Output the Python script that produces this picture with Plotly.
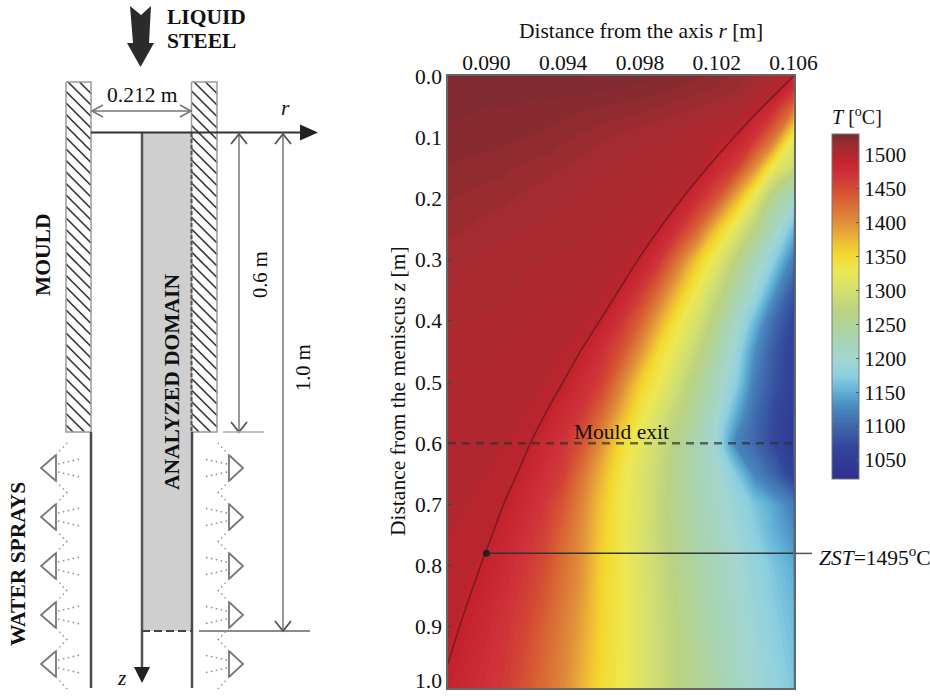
import plotly.graph_objects as go

W, H = 930, 696
SERIF = "Liberation Serif"

# ---- Temperature field ----
r_vals = [0.088, 0.089, 0.090, 0.091, 0.092, 0.093, 0.094, 0.095, 0.096, 0.097,
          0.098, 0.099, 0.100, 0.101, 0.102, 0.103, 0.104, 0.105, 0.106]
z_vals = [0, 0.025, 0.05, 0.1, 0.15, 0.2, 0.25, 0.3, 0.35, 0.4, 0.45, 0.5, 0.55,
          0.6, 0.65, 0.7, 0.75, 0.8, 0.9, 1.0]
T_z000 = [1531,1531,1531,1531,1531,1531,1531,1530,1530,1529,1528,1527,1525,1523,1520,1517,1512,1505,1495]
T_z002 = [1529,1529,1529,1528,1528,1528,1527,1527,1526,1525,1524,1523,1521,1519,1517,1514,1510,1501,1470]
T_z005 = [1527,1527,1526,1526,1525,1525,1524,1523,1522,1521,1520,1518,1516,1514,1511,1508,1498,1478,1430]
T_z010 = [1525,1524,1524,1523,1522,1521,1519,1517,1515,1513,1511,1509,1507,1504,1500,1493,1469,1420,1330]
T_z015 = [1522,1521,1520,1519,1517,1516,1514,1512,1510,1509,1508,1506,1504,1502,1483,1460,1400,1323,1287]
T_z020 = [1518,1517,1516,1515,1513,1511,1510,1509,1508,1507,1505,1503,1497,1476,1444,1382,1317,1250,1212]
T_z025 = [1515,1514,1512,1511,1510,1509,1508,1507,1505,1504,1502,1495,1472,1430,1368,1317,1267,1215,1158]
T_z030 = [1512,1510,1509,1508,1507,1506,1505,1504,1503,1500,1493,1469,1420,1365,1320,1270,1223,1175,1120]
T_z035 = [1510,1509,1508,1507,1505,1504,1503,1502,1500,1493,1469,1427,1375,1330,1286,1241,1195,1138,1085]
T_z040 = [1507,1506,1505,1504,1503,1502,1501,1499,1493,1471,1435,1385,1338,1302,1259,1210,1157,1103,1067]
T_z045 = [1505,1504,1503,1502,1501,1500,1498,1493,1474,1446,1400,1349,1316,1279,1236,1190,1131,1087,1058]
T_z050 = [1503,1502,1501,1500,1499,1498,1495,1478,1460,1414,1362,1330,1295,1257,1217,1176,1117,1082,1058]
T_z055 = [1502,1501,1500,1499,1498,1497,1481,1465,1430,1383,1339,1308,1274,1240,1205,1151,1104,1072,1050]
T_z060 = [1501,1500,1499,1498,1497,1484,1469,1443,1400,1352,1321,1292,1260,1229,1193,1125,1100,1070,1045]
T_z065 = [1500,1499,1498,1497,1489,1474,1460,1420,1378,1339,1312,1285,1253,1226,1205,1170,1125,1096,1060]
T_z070 = [1499,1498,1497,1494,1480,1467,1442,1407,1367,1333,1313,1282,1253,1231,1209,1188,1165,1143,1118]
T_z075 = [1498,1497,1496,1486,1473,1460,1430,1400,1362,1333,1309,1282,1256,1234,1215,1195,1174,1152,1132]
T_z080 = [1497,1496,1491,1479,1467,1450,1424,1397,1358,1335,1311,1287,1261,1239,1220,1201,1183,1165,1148]
T_z090 = [1496,1491,1480,1469,1456,1435,1413,1387,1355,1334,1312,1290,1268,1245,1226,1208,1191,1174,1160]
T_z100 = [1491,1481,1472,1464,1445,1426,1406,1377,1350,1333,1312,1292,1270,1253,1234,1213,1197,1182,1167]
T_rows = [T_z000, T_z002, T_z005, T_z010, T_z015, T_z020, T_z025, T_z030, T_z035, T_z040,
          T_z045, T_z050, T_z055, T_z060, T_z065, T_z070, T_z075, T_z080, T_z090, T_z100]

# Zero-strength isotherm
zst_r = [0.1060, 0.1044, 0.1029, 0.1015, 0.1002, 0.0990, 0.0979, 0.0969, 0.0959, 0.0949,
         0.0940, 0.0931, 0.0923, 0.0916, 0.0909, 0.0903, 0.0897, 0.0886, 0.0880]
zst_z = [0, 0.05, 0.1, 0.15, 0.2, 0.25, 0.3, 0.35, 0.4, 0.45,
         0.5, 0.55, 0.6, 0.65, 0.7, 0.75, 0.8, 0.9, 0.96]
zst_point = (0.090, 0.78)
mould_exit_z = 0.6
x_ticks = [0.090, 0.094, 0.098, 0.102, 0.106]
y_ticks = [0.0, 0.1, 0.2, 0.3, 0.4, 0.5, 0.6, 0.7, 0.8, 0.9, 1.0]
y_tick_text = ["0.0", "0.1", "0.2", "0.3", "0.4", "0.5", "0.6", "0.7", "0.8", "0.9", ""]
cb_ticks = [1050, 1100, 1150, 1200, 1250, 1300, 1350, 1400, 1450, 1500]

T_MIN, T_MAX = 1022, 1531
colour_stops = [(1022, "#2e2f8f"), (1070, "#33479b"), (1100, "#3f68ad"), (1130, "#4a8bc0"),
                (1150, "#5fb0d5"), (1175, "#8ed0e0"), (1200, "#a3d6d0"), (1230, "#a9d4b0"),
                (1270, "#bad280"), (1300, "#d3df70"), (1330, "#ede853"), (1355, "#f4d82e"),
                (1375, "#eeb936"), (1400, "#e0913a"), (1440, "#d75a33"), (1470, "#cf3338"),
                (1494, "#c4222e"), (1498, "#b4262e"), (1512, "#a62b31"), (1522, "#8e2b30"),
                (1531, "#7d2a33")]
colorscale = [[(t - T_MIN) / (T_MAX - T_MIN), c] for t, c in colour_stops]

fig = go.Figure()
fig.add_trace(go.Contour(
    x=r_vals, y=z_vals, z=T_rows, colorscale=colorscale, zmin=T_MIN, zmax=T_MAX,
    contours=dict(coloring="fill", start=T_MIN, end=T_MAX, size=4, showlines=False),
    line=dict(width=0, smoothing=1.0), hoverinfo="skip",
    colorbar=dict(
        x=832 / W, xanchor="left", y=1 - 306.5 / H, yanchor="middle",
        thickness=27, thicknessmode="pixels", len=345 / H, lenmode="fraction",
        xpad=0, ypad=0, outlinecolor="#777", outlinewidth=1,
        tickvals=cb_ticks, ticks="inside", ticklen=3, tickcolor="#555",
        tickfont=dict(family=SERIF, size=21, color="#111"),
    ),
))
fig.add_trace(go.Scatter(x=zst_r, y=zst_z, mode="lines", showlegend=False, hoverinfo="skip",
                         line=dict(color="#7a1c22", width=1.6, shape="spline")))
fig.add_trace(go.Scatter(x=[r_vals[0], r_vals[-1]], y=[mould_exit_z, mould_exit_z], mode="lines",
                         showlegend=False, hoverinfo="skip",
                         line=dict(color="rgba(50,50,50,0.7)", width=2.5, dash="8px,6px")))
fig.add_trace(go.Scatter(x=[zst_point[0], r_vals[-1]], y=[zst_point[1], zst_point[1]], mode="lines",
                         showlegend=False, hoverinfo="skip", line=dict(color="#333", width=1.5)))
fig.add_trace(go.Scatter(x=[zst_point[0]], y=[zst_point[1]], mode="markers",
                         showlegend=False, hoverinfo="skip",
                         marker=dict(color="#222", size=7)))

# ---- Schematic, drawn on a hidden full-page axis in page pixels ----
def line(xs, ys, color="#444", width=2, dash=None):
    fig.add_trace(go.Scatter(x=xs, y=ys, xaxis="x2", yaxis="y2", mode="lines", showlegend=False,
                             hoverinfo="skip", line=dict(color=color, width=width, dash=dash)))

def poly(xs, ys, fill, color=None, width=0):
    fig.add_trace(go.Scatter(x=xs, y=ys, xaxis="x2", yaxis="y2", mode="lines", fill="toself",
                             fillcolor=fill, showlegend=False, hoverinfo="skip",
                             line=dict(color=color or fill, width=width)))

# leader to the ZST label
line([793.5, 812], [553.4, 553.4], color="#555", width=1.5)

# analysed domain
poly([142, 191, 191, 142, 142], [133, 133, 631, 631, 133], "#cfcfcf")

# mould walls with hatching
def hatch(x0, x1, y0, y1, step=11.5):
    xs, ys = [], []
    w = x1 - x0
    c = y0 - w
    while c < y1:
        sy = max(c, y0)
        ey = min(c + w, y1)
        xs += [x0 + (sy - c), x0 + (ey - c), None]
        ys += [sy, ey, None]
        c += step
    line(xs, ys, color="#3a3a3a", width=1.7)
    line([x0, x1, x1, x0, x0], [y0, y0, y1, y1, y0], color="#9a9a9a", width=1.5)

hatch(66, 91, 82, 432)
hatch(191.5, 217, 82, 432)

# walls and axes
line([91, 91], [432, 688], color="#4a4a4a", width=2.5)
line([192, 192], [432, 688], color="#4a4a4a", width=2.5)
line([191.5, 191.5], [133, 432], color="#555", width=2, dash="4px,2px")
line([142, 142], [133, 670], color="#555", width=2.5)
poly([134, 150, 142, 134], [667, 667, 683, 667], "#222")
line([142, 192], [631, 631], color="#444", width=2, dash="8px,4px")
line([91, 302], [132.5, 132.5], color="#333", width=2.2)
poly([300, 318, 300, 300], [124.5, 132.5, 140.5, 124.5], "#222")

# big arrow
poly([130, 141, 151, 149, 154, 140.5, 127, 133, 130],
     [6, 15, 6, 43, 43, 67, 43, 43, 6], "#2b2b2b")

# dimensions
GREY = "#777"
line([91, 192], [111, 111], color=GREY, width=1.6)
line([103, 92, 103], [105, 111, 117], color=GREY, width=1.6)
line([180, 191, 180], [105, 111, 117], color=GREY, width=1.6)
for x, y_end in ((239, 432), (283, 631)):
    line([x, x], [134, y_end], color="#999", width=2)
    line([x - 8, x, x + 8], [144, 134, 144], color="#555", width=1.8)
    line([x - 8, x, x + 8], [y_end - 10, y_end, y_end - 10], color="#555", width=1.8)
line([223, 264], [432, 432], color="#aaa", width=1.5)
line([199, 310], [631, 631], color="#666", width=1.5)

# spray nozzles
nozzle_y = [468, 517, 566, 615, 664]
for y in nozzle_y:
    line([56, 41, 56, 56], [y - 13, y, y + 13, y - 13], color="#777", width=1.8)
    line([229, 243, 229, 229], [y - 13, y, y + 13, y - 13], color="#777", width=1.8)
    for sign in (-1, 1):
        line([58, 80], [y + sign * 4, y + sign * 9], color="#888", width=1.5, dash="1.5px,3.5px")
        line([227, 204], [y + sign * 4, y + sign * 9], color="#888", width=1.5, dash="1.5px,3.5px")
        line([56, 69], [y + sign * 13, y + sign * 27], color="#999", width=1.5, dash="1.5px,3.5px")
        line([229, 216], [y + sign * 13, y + sign * 27], color="#999", width=1.5, dash="1.5px,3.5px")

# ---- Text ----
TS = 21.5
def text(x, y, s, size=TS, bold=False, angle=0, anchor="center"):
    if bold:
        s = f"<b>{s}</b>"
    fig.add_annotation(x=x, y=y, xref="x2", yref="y2", text=s, showarrow=False, textangle=angle,
                       xanchor=anchor, yanchor="middle",
                       font=dict(family=SERIF, size=size, color="#111"))

text(165, 17, "LIQUID", bold=True, anchor="left")
text(165, 41, "STEEL", bold=True, anchor="left")
text(142, 95, "0.212 m")
text(285, 108, "<i>r</i>")
text(122, 678, "<i>z</i>")
text(260, 275, "0.6 m", size=20.5, angle=-90)
text(303, 368, "1.0 m", size=20.5, angle=-90)
text(43, 255, "MOULD", bold=True, angle=-90)
text(172, 382, "ANALYZED DOMAIN", bold=True, angle=-90)
text(18, 564, "WATER SPRAYS", bold=True, angle=-90)
text(641, 31, "Distance from the axis <i>r</i> [m]")
text(398, 391, "Distance from the meniscus <i>z</i> [m]", angle=-90)
text(621, 432, "Mould exit")
text(857, 116, "<i>T</i> [<sup>o</sup>C]", size=20)
text(817, 556, "<i>ZST</i>=1495<sup>o</sup>C", anchor="left")
text(428, 681, "1.0")

axis_font = dict(family=SERIF, size=21.5, color="#111")
fig.update_layout(
    width=W, height=H, margin=dict(l=0, r=0, t=0, b=0, autoexpand=False), autosize=False,
    paper_bgcolor="white", plot_bgcolor="rgba(0,0,0,0)", showlegend=False,
    xaxis=dict(domain=[448 / W, 793.5 / W], range=[0.088, 0.106], side="top", anchor="y",
               tickvals=x_ticks, tickformat=".3f", ticks="inside", ticklen=4, tickcolor="#444",
               ticklabelstandoff=-4, ticklabeloverflow="allow",
               showgrid=False, zeroline=False, showline=True, linecolor="#666", linewidth=1.5,
               mirror=True, tickfont=axis_font),
    yaxis=dict(domain=[1 - 688 / H, 1 - 76 / H], range=[1.0, 0.0], anchor="x",
               tickvals=y_ticks, ticktext=y_tick_text, ticks="inside", ticklen=4, tickcolor="#444",
               ticklabeloverflow="allow",
               showgrid=False, zeroline=False, showline=True, linecolor="#666", linewidth=1.5,
               mirror=True, tickfont=axis_font),
    xaxis2=dict(domain=[0, 1], range=[0, W], visible=False, fixedrange=True, anchor="y2"),
    yaxis2=dict(domain=[0, 1], range=[H, 0], visible=False, fixedrange=True, anchor="x2"),
)

fig.write_html("out.html", config=dict(displayModeBar=False),
               post_script="document.body.style.margin='0';document.body.style.overflow='hidden';")
